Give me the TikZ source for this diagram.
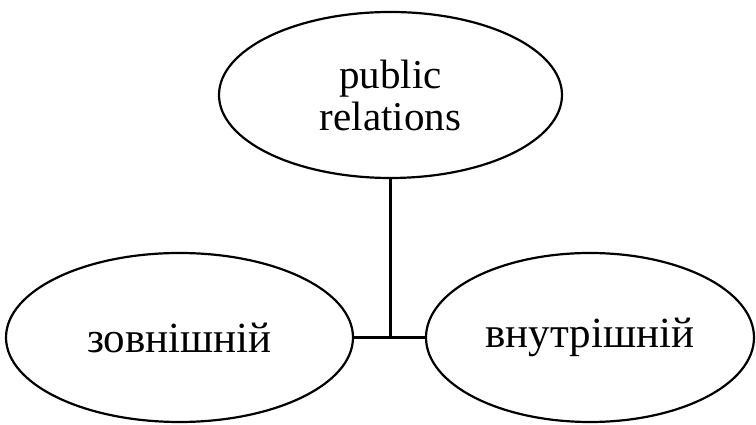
\documentclass[tikz,border=0pt]{standalone}
\usepackage{fontspec}
\setmainfont{Liberation Serif}
\usetikzlibrary{calc, positioning, shapes.geometric}

\begin{document}
\begin{tikzpicture}[
    x=1pt, y=1pt,
    line width=2.2pt,
    font=\fontsize{41}{42}\selectfont
]

    % Ellipse style for the three terms
    \tikzset{term/.style={
        draw,
        ellipse,
        inner sep=0pt,
        align=center
    }}

    % Fix the page to the reference size
    \useasboundingbox (0, 0) rectangle (756, 425);

    % Top term
    \node[term, minimum width=343, minimum height=166] (pr) at (390.5, 330) {public\\relations};

    % Bottom terms
    \node[term, minimum width=347, minimum height=169, font=\fontsize{43}{44}\selectfont] (outer) at (179.5, 87.5) {зовнішній};
    \node[term, minimum width=328, minimum height=169, font=\fontsize{43}{44}\selectfont] (inner) at (590, 87.5) {внутрішній};

    % Connectors
    \coordinate (join) at (pr.south |- outer.east);
    \draw (pr.south) -- (join);
    \draw (outer.east) -- (inner.west);

\end{tikzpicture}
\end{document}
